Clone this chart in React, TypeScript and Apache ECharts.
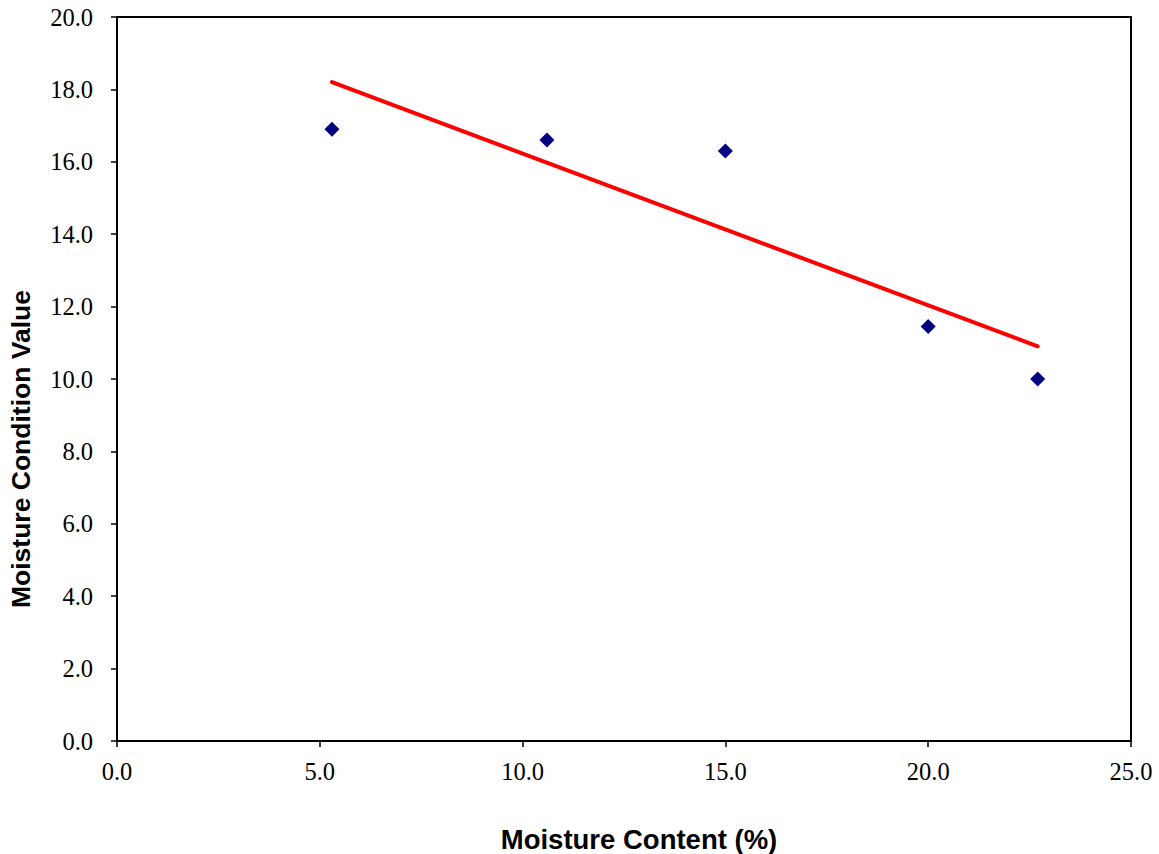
import React, { useEffect, useRef } from "react";
import * as echarts from "echarts";

// Measured samples
const moistureContent = [5.3, 10.6, 15.0, 20.0, 22.7];
const conditionValue = [16.9, 16.6, 16.3, 11.45, 10.0];

const xTickMin = 0;
const xTickMax = 25;
const xTickStep = 5;
const yTickMin = 0;
const yTickMax = 20;
const yTickStep = 2;

const xTitle = "Moisture Content (%)";
const yTitle = "Moisture Condition Value";

// Least-squares trend line over the sampled range
function trendLine(xs: number[], ys: number[]): number[][] {
  const n = xs.length;
  const mx = xs.reduce((a, b) => a + b, 0) / n;
  const my = ys.reduce((a, b) => a + b, 0) / n;
  let sxy = 0;
  let sxx = 0;
  for (let i = 0; i < n; i++) {
    sxy += (xs[i] - mx) * (ys[i] - my);
    sxx += (xs[i] - mx) * (xs[i] - mx);
  }
  const slope = sxy / sxx;
  const icpt = my - slope * mx;
  const x0 = Math.min(...xs);
  const x1 = Math.max(...xs);
  return [
    [x0, icpt + slope * x0],
    [x1, icpt + slope * x1],
  ];
}

export default function App() {
  const ref = useRef<HTMLDivElement>(null);

  useEffect(() => {
    if (!ref.current) return;
    const chart = echarts.init(ref.current, undefined, { renderer: "svg" });
    const points = moistureContent.map((x, i) => [x, conditionValue[i]]);
    const tickLabel = {
      color: "#000",
      fontFamily: "'Liberation Serif', 'Times New Roman', serif",
      fontSize: 24.5,
      formatter: (v: number) => v.toFixed(1),
    };
    const titleFont = "'Liberation Sans', Arial, sans-serif";

    chart.setOption({
      animation: false,
      backgroundColor: "#fff",
      grid: {
        left: 117,
        top: 17,
        right: 28,
        bottom: 113,
        show: true,
        borderColor: "#000",
        borderWidth: 2,
        backgroundColor: "transparent",
      },
      xAxis: {
        type: "value",
        min: xTickMin,
        max: xTickMax,
        interval: xTickStep,
        axisLine: { show: true, onZero: false, lineStyle: { color: "#000", width: 2 } },
        axisTick: { show: true, length: 6, inside: false, lineStyle: { color: "#000", width: 1.5 } },
        splitLine: { show: false },
        axisLabel: { ...tickLabel, margin: 18 },
      },
      yAxis: {
        type: "value",
        min: yTickMin,
        max: yTickMax,
        interval: yTickStep,
        axisLine: { show: true, onZero: false, lineStyle: { color: "#000", width: 2 } },
        axisTick: { show: true, length: 6, inside: false, lineStyle: { color: "#000", width: 1.5 } },
        splitLine: { show: false },
        axisLabel: { ...tickLabel, margin: 24 },
      },
      graphic: [
        {
          type: "text",
          x: 639,
          y: 839,
          style: {
            text: xTitle,
            font: `bold 27.5px ${titleFont}`,
            fill: "#000",
            align: "center",
            verticalAlign: "middle",
          },
        },
        {
          type: "text",
          x: 21,
          y: 449,
          rotation: Math.PI / 2,
          style: {
            text: yTitle,
            font: `bold 26.5px ${titleFont}`,
            fill: "#000",
            align: "center",
            verticalAlign: "middle",
          },
        },
      ],
      series: [
        {
          type: "line",
          data: trendLine(moistureContent, conditionValue),
          showSymbol: false,
          symbol: "none",
          lineStyle: { color: "#ff0000", width: 4, cap: "round" },
          z: 2,
        },
        {
          type: "scatter",
          data: points,
          symbol: "diamond",
          symbolSize: [15, 15],
          itemStyle: { color: "#000080", opacity: 1 },
          z: 3,
        },
      ],
    });

    return () => chart.dispose();
  }, []);

  return (
    <div
      ref={ref}
      style={{ position: "fixed", left: 0, top: 0, width: 1159, height: 854, background: "#fff" }}
    />
  );
}
